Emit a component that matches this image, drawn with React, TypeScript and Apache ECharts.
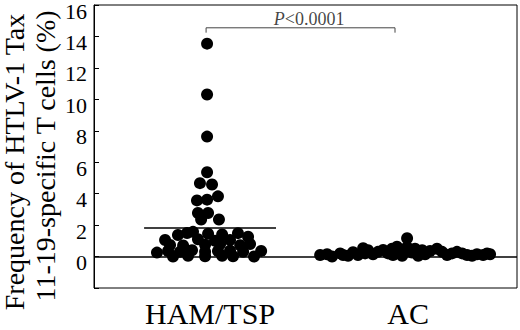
import React, { useEffect, useRef } from "react";
import * as echarts from "echarts";

const categories = ["HAM/TSP", "AC"];
const yTickLabels = ["0", "2", "4", "6", "8", "10", "12", "14", "16"];

const hamValues = [
  13.54, 10.31, 7.63, 5.36, 4.67, 4.58, 3.57, 3.62, 3.83, 2.77, 2.77, 2.36, 2.36,
  1.57, 1.5, 1.37, 1.45, 1.4, 1.49, 1.26, 1.05, 1.1, 1.0, 1.05,
  0.74, 0.7, 0.75, 0.8, 0.72, 0.8,
  0.25, 0.35, 0.3, 0.4, 0.3, 0.35, 0.38, 0.3, 0.36,
  0.0, 0.05, 0.02, 0.05, 0.02, 0.0,
];
const hamJitter = [
  -0.015, -0.015, -0.015, -0.015, -0.051, 0.01, -0.066, -0.015, 0.04, -0.061, -0.01, 0.045, -0.045,
  -0.086, -0.116, -0.162, -0.01, 0.061, 0.141, 0.192, -0.227, -0.061, 0.025, 0.101,
  -0.202, -0.136, -0.025, 0.051, 0.152, 0.202,
  -0.268, -0.212, -0.152, -0.091, -0.025, 0.04, 0.101, 0.167, 0.258,
  -0.187, -0.111, -0.025, 0.061, 0.116, 0.222,
];

const acValues = [
  0.1, 0.0, 0.1, 0.28, 0.53, 0.15, 0.42, 0.5, 0.63, 1.16, 0.6, 0.5, 0.15, 0.5, 0.1, 0.3, 0.1, 0.15, 0.15,
  0.2, 0.2, 0.2, 0.35, 0.25, 0.35, 0.2, 0.1, 0.05, 0.05,
  0.15, 0.05, 0.1, 0.4, 0.3, 0.1, 0.4, 0.3, 0.2, 0.05, 0.2,
];
const acJitter = [
  -0.444, -0.384, -0.328, -0.278, -0.227, -0.177, -0.126, -0.081, -0.056, -0.005, -0.005, 0.035, 0.086,
  0.146, 0.197, 0.247, 0.298, 0.348, 0.414,
  -0.343, -0.217, -0.101, -0.04, 0.02, 0.111, 0.222, 0.379, -0.03, 0.051,
  -0.409, -0.303, -0.253, -0.202, -0.152, -0.076, 0.071, 0.172, 0.273, 0.323, 0.399,
];

const hamMean = 1.83;
const pText = "P<0.0001";
const bracketLow = 14.24;
const bracketHigh = 14.55;
const bracketFrom = 0.98;
const bracketTo = 1.934;
const pLabelY = 15.12;

const serif = "Liberation Serif";

export default function App() {
  const ref = useRef<HTMLDivElement>(null);
  useEffect(() => {
    if (!ref.current) return;
    const chart = echarts.init(ref.current, undefined, { renderer: "svg" });
    const hamData = hamValues.map((v, i) => [1 + hamJitter[i], v]);
    const acData = acValues.map((v, i) => [2 + acJitter[i], v]);
    const meanHalf = 0.333;
    chart.setOption({
      animation: false,
      backgroundColor: "#ffffff",
      textStyle: { fontFamily: serif },
      grid: {
        left: 94,
        right: 3,
        top: 2,
        bottom: 42,
        show: true,
        borderColor: "#000",
        borderWidth: 1,
        backgroundColor: "transparent",
      },
      xAxis: {
        type: "value",
        min: 0.414,
        max: 2.55,
        axisLine: { show: false },
        axisTick: { show: false },
        splitLine: { show: false },
        axisLabel: {
          customValues: [1, 2],
          formatter: (v: number) => "{c|" + (categories[Math.round(v) - 1] ?? "") + "}",
          fontSize: 30,
          fontFamily: serif,
          color: "#000",
          margin: 10,
          rich: {
            c: { fontSize: 30, fontFamily: serif, color: "#000" },
          },
        },
      },
      yAxis: {
        type: "value",
        min: -2,
        max: 16,
        interval: 2,
        axisLine: { show: true, lineStyle: { color: "#000", width: 1 } },
        axisTick: { show: true, inside: true, length: 5, lineStyle: { color: "#000" } },
        splitLine: { show: false },
        axisLabel: {
          formatter: (v: number) => (v < 0 ? "" : "{t|" + (yTickLabels[v / 2] ?? "") + "}"),
          fontSize: 22,
          fontFamily: serif,
          color: "#000",
          margin: 7,
          rich: {
            t: { fontSize: 22, fontFamily: serif, color: "#000", padding: [12, 0, 0, 0] },
          },
        },
      },
      series: [
        {
          type: "scatter",
          data: hamData,
          symbol: "circle",
          symbolSize: 12,
          itemStyle: { color: "#000", opacity: 1 },
          z: 3,
          markLine: {
            silent: true,
            symbol: "none",
            label: { show: false },
            lineStyle: { color: "#000", width: 1.6, type: "solid" },
            data: [
              { yAxis: 0 },
              [
                { coord: [1 - meanHalf, hamMean] },
                { coord: [1 + meanHalf, hamMean] },
              ],
            ],
          },
        },
        {
          type: "scatter",
          data: acData,
          symbol: "circle",
          symbolSize: 12,
          itemStyle: { color: "#000", opacity: 1 },
          z: 3,
        },
        {
          type: "line",
          data: [
            [bracketFrom, bracketLow],
            [bracketFrom, bracketHigh],
            [bracketTo, bracketHigh],
            [bracketTo, bracketLow],
          ],
          symbol: "none",
          lineStyle: { color: "#444", width: 1 },
          z: 2,
        },
        {
          type: "scatter",
          data: [[(1 + 2) / 2, pLabelY]],
          symbolSize: 0,
          label: {
            show: true,
            position: "inside",
            formatter: () => "{i|P}{n|" + pText.slice(1) + "}",
            rich: {
              i: { fontStyle: "italic", fontSize: 18, fontFamily: serif, color: "#111" },
              n: { fontSize: 18, fontFamily: serif, color: "#111" },
            },
          },
        },
      ],
      graphic: [
        {
          type: "text",
          x: 14.5,
          y: 162,
          rotation: Math.PI / 2,
          style: {
            text: "Frequency of HTLV-1 Tax",
            fontSize: 28,
            fontFamily: serif,
            fill: "#000",
            textAlign: "center",
            textVerticalAlign: "middle",
          },
        },
        {
          type: "text",
          x: 45,
          y: 156,
          rotation: Math.PI / 2,
          style: {
            text: "11-19-specific T cells (%)",
            fontSize: 28,
            fontFamily: serif,
            fill: "#000",
            textAlign: "center",
            textVerticalAlign: "middle",
          },
        },
      ],
    });
    return () => chart.dispose();
  }, []);
  return (
    <div
      ref={ref}
      style={{ position: "absolute", left: 0, top: 0, width: 520, height: 330 }}
    />
  );
}
